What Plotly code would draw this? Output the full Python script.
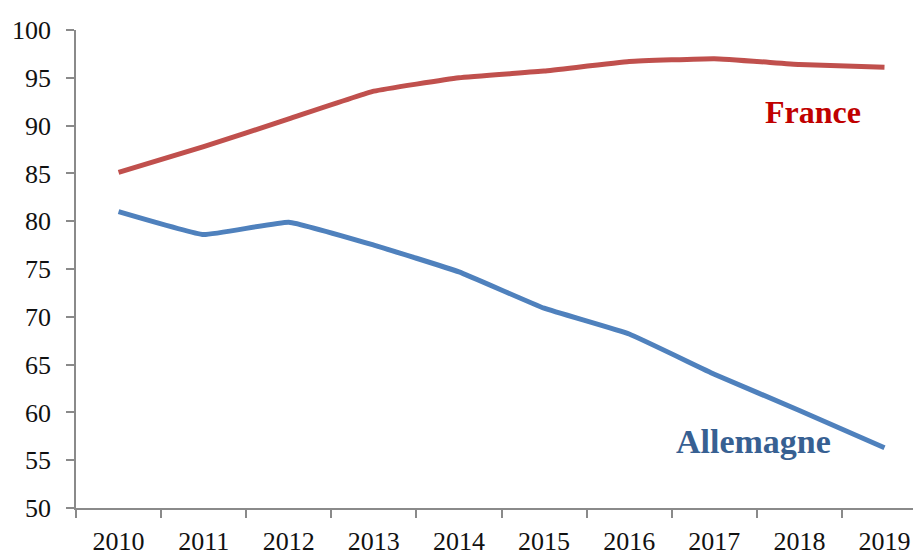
import plotly.graph_objects as go

# Series values by year
years = ["2010", "2011", "2012", "2013", "2014", "2015", "2016", "2017", "2018", "2019"]
france = [85.1, 87.8, 90.7, 93.6, 95.0, 95.7, 96.7, 97.0, 96.4, 96.1]
allemagne = [81.0, 78.6, 79.9, 77.5, 74.7, 70.9, 68.2, 64.0, 60.2, 56.3]
y_ticks = [50, 55, 60, 65, 70, 75, 80, 85, 90, 95, 100]

FONT = "Liberation Serif"
AXIS_GREY = "#8a8a8a"

fig = go.Figure()
fig.add_trace(go.Scatter(
    x=years, y=france, mode="lines", name="France",
    line=dict(color="#C0504D", width=5, shape="spline", smoothing=0.3),
))
fig.add_trace(go.Scatter(
    x=years, y=allemagne, mode="lines", name="Allemagne",
    line=dict(color="#4F81BD", width=5, shape="spline", smoothing=0.3),
))

# Direct series labels
fig.add_annotation(x=8.16, y=91.4, text="<b>France</b>", showarrow=False,
                   font=dict(family=FONT, size=32, color="#C00000"),
                   xanchor="center", yanchor="middle")
fig.add_annotation(x=7.46, y=57.0, text="<b>Allemagne</b>", showarrow=False,
                   font=dict(family=FONT, size=34, color="#376092"),
                   xanchor="center", yanchor="middle")

fig.update_layout(
    width=913, height=555,
    margin=dict(l=76, r=0, t=30, b=47),
    paper_bgcolor="white", plot_bgcolor="white",
    showlegend=False,
    font=dict(family=FONT, size=26, color="#111111"),
)
fig.update_xaxes(
    type="category", range=[-0.5, 9.335],
    tickson="boundaries", ticks="outside", ticklen=8, tickwidth=1.5,
    tickcolor=AXIS_GREY, showline=True, linecolor=AXIS_GREY, linewidth=1.5,
    showgrid=False, zeroline=False, ticklabelstandoff=9,
)
fig.update_yaxes(
    range=[50, 100], tickvals=y_ticks, ticks="outside", ticklen=8,
    tickwidth=1.5, tickcolor=AXIS_GREY, showline=True, linecolor=AXIS_GREY,
    linewidth=1.5, showgrid=False, zeroline=False, ticklabelstandoff=10,
)

fig.write_html("out.html")
